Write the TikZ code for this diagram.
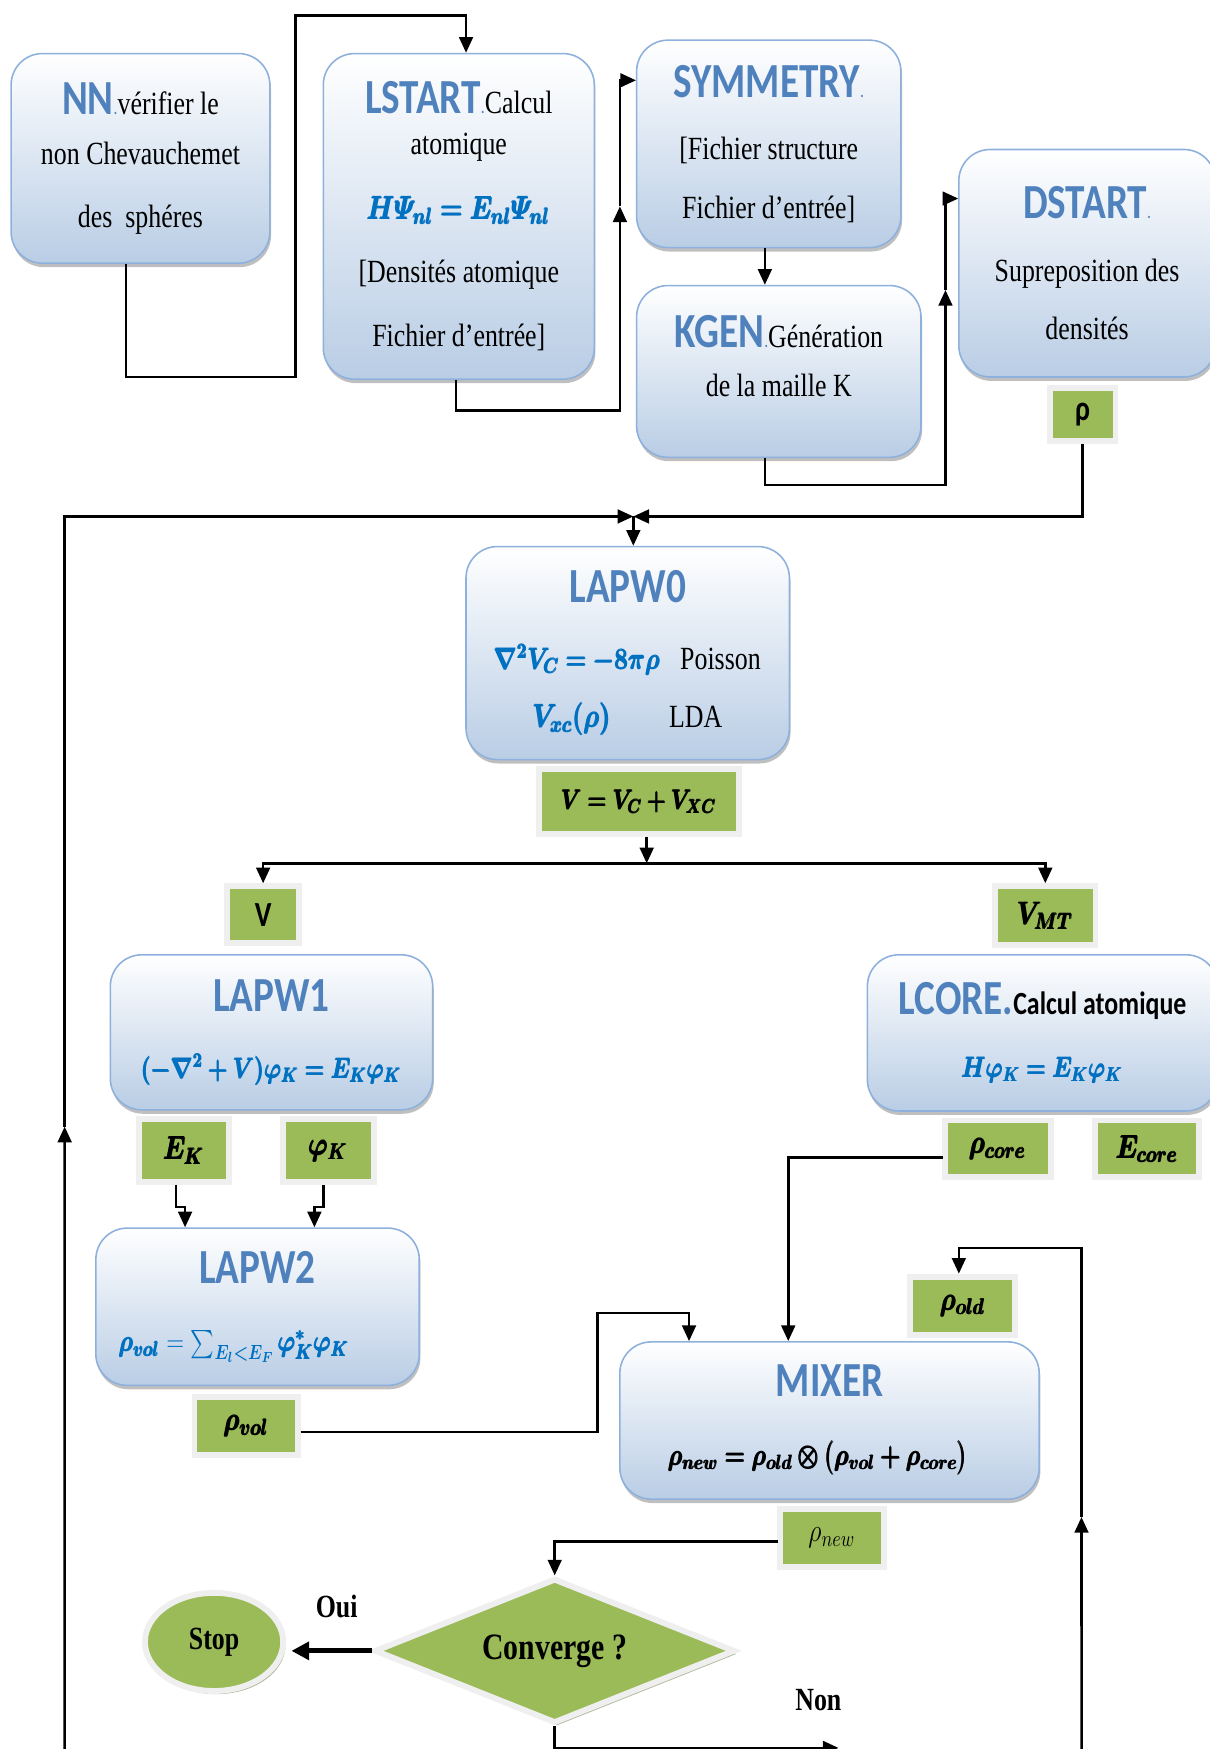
\RequirePackage{fix-cm}
\documentclass[tikz,border=0pt]{standalone}
\usepackage{fontspec}
\usepackage{amsmath,bm}
\setmainfont{Liberation Serif}
\newfontfamily\carlito{Carlito}
\usetikzlibrary{arrows.meta,shapes.geometric,shadows}
\definecolor{titleblue}{HTML}{4F81BD}
\definecolor{eqblue}{HTML}{0070C0}
\definecolor{boxblue}{HTML}{B9CDE5}
\definecolor{boxedge}{HTML}{8EB0DC}
\definecolor{leaf}{HTML}{9BBB59}
\definecolor{framegray}{HTML}{EFEFEF}
\newcommand{\ttl}[1]{{\carlito\bfseries\fontsize{25}{25}\selectfont\color{titleblue}#1}}
\newcommand{\tdot}{{\carlito\fontsize{10}{10}\selectfont\color{titleblue}.}}
\newcommand{\hb}[1]{\pmb{\bm{#1}}}
\newcommand{\beq}[2][16.5]{{\fontsize{#1}{20}\selectfont\textcolor{eqblue}{$\hb{#2}$}}}
\newcommand{\beqk}[2][16.5]{{\fontsize{#1}{20}\selectfont$\hb{#2}$}}
\newcommand{\sfb}[1]{{\carlito\bfseries\fontsize{18}{18}\selectfont #1}}
\tikzset{
  txt/.style={font=\fontsize{16.5}{20}\selectfont},
  proc/.style={txt,rectangle,rounded corners=16pt,draw=boxedge,line width=0.8pt,top color=white,bottom color=boxblue,align=center,drop shadow={shadow xshift=0.6pt,shadow yshift=-2pt,fill=black!50,opacity=0.5}},
  data/.style={txt,rectangle,fill=leaf,draw=framegray,line width=3pt,inner sep=1pt,drop shadow={shadow xshift=1.2pt,shadow yshift=-1.6pt,fill=black!40!leaf,opacity=0.5}},
  lbl/.style={txt,font=\fontsize{16.5}{20}\selectfont\bfseries},
  arrow/.style={-{Triangle[length=8pt,width=7pt]},line width=1.3pt},
  bigarrow/.style={-{Triangle[length=9pt,width=9pt]},line width=2.6pt,shorten >=3pt}
}
\begin{document}
\begin{tikzpicture}[x=0.025cm,y=-0.02cm,xscale=0.8,transform shape]
  \useasboundingbox (0,0) rectangle (1085,1568);
  % initialisation
  \node[proc,minimum width=5.8cm,minimum height=3.76cm] (nn) at (126,142) {\ttl{NN}\tdot vérifier le\\[6pt]non Chevauchemet\\[12pt]des\ \ sphéres};
  \node[proc,minimum width=6.075cm,minimum height=5.84cm] (lstart) at (411.5,194) {\ttl{LSTART}\tdot Calcul\\[1pt]atomique\\[13pt]\beq{H\varPsi_{nl} = E_{nl}\varPsi_{nl}}\\[12pt][Densités atomique\\[13pt]Fichier d’entrée]};
  \node[proc,minimum width=5.925cm,minimum height=3.72cm] (symm) at (689.5,129) {\ttl{SYMMETRY}\tdot\\[12pt][Fichier structure\\[10pt]Fichier d’entrée]};
  \node[proc,minimum width=6.375cm,minimum height=3.08cm,text depth=16pt] (kgen) at (698.5,333) {\ttl{KGEN}\tdot Génération\\[5pt]de la maille K};
  \node[proc,minimum width=5.75cm,minimum height=4.08cm] (dstart) at (975,236) {\ttl{DSTART}\tdot\\[12pt]Supreposition des\\[10pt]densités};
  \node[data,minimum width=1.475cm,minimum height=0.96cm] (rho) at (971,371.5) {\sfb{ρ}};
  % cycle SCF
  \node[proc,minimum width=7.25cm,minimum height=3.82cm] (lapw0) at (563,585.5) {\ttl{LAPW0}\\[14pt]\beq[15.2]{\nabla^2V_C = -8\pi\rho}\hspace{0.45cm}Poisson\\[10pt]\beq{V_{xc}(\rho)}\hspace{1.3cm}LDA};
  \node[data,minimum width=4.475cm,minimum height=1.16cm] (vsum) at (573,718.5) {\beqk[14]{V = V_C + V_{XC}}};
  \node[data,minimum width=1.625cm,minimum height=1.02cm] (v) at (236,820) {\sfb{V}};
  \node[data,minimum width=2.25cm,minimum height=1.06cm] (vmt) at (937.5,821) {$\hb{V_{MT}}$};
  \node[proc,minimum width=7.225cm,minimum height=2.78cm] (lapw1) at (243.5,925.5) {\ttl{LAPW1}\\[14pt]\beq[14.5]{(-\nabla^2+V)\varphi_K = E_K\varphi_K}};
  \node[data,minimum width=2.025cm,minimum height=1.12cm] (ek) at (165,1031.5) {$\hb{E_K}$};
  \node[data,minimum width=2.05cm,minimum height=1.12cm] (phik) at (294.5,1031.5) {$\hb{\varphi_K}$};
  \node[proc,minimum width=7.25cm,minimum height=2.82cm] (lapw2) at (231,1171.5) {\ttl{LAPW2}\\[15pt]{\fontsize{15}{20}\selectfont\textcolor{eqblue}{$\hb{\rho_{vol}} = \sum_{\bm{E_l<E_F}}\hb{\varphi^{*}_K\varphi_K}$}}\rule{1.05cm}{0pt}};
  \node[data,minimum width=2.325cm,minimum height=1.04cm] (rvol) at (221,1278.5) {$\hb{\rho_{vol}}$};
  \node[proc,minimum width=7.85cm,minimum height=2.8cm] (lcore) at (935,926) {\ttl{LCORE.}{\carlito\bfseries Calcul atomique}\\[12pt]\beq[14.5]{H\varphi_K = E_K\varphi_K}};
  \node[data,minimum width=2.375cm,minimum height=1.02cm] (rcore) at (895,1030) {$\hb{\rho_{core}}$};
  \node[data,minimum width=2.325cm,minimum height=1.02cm] (ecore) at (1029,1030) {$\hb{E_{core}}$};
  \node[data,minimum width=2.35cm,minimum height=1.04cm] (rold) at (863.5,1170.5) {$\hb{\rho_{old}}$};
  \node[proc,minimum width=9.4cm,minimum height=2.82cm] (mixer) at (744,1273.5) {\ttl{MIXER}\\[15pt]\beqk[15]{\rho_{new} = \rho_{old}\otimes\bigl(\rho_{vol}+\rho_{core}\bigr)}\rule{0.5cm}{0pt}};
  \node[data,minimum width=2.325cm,minimum height=1.04cm] (rnew) at (746,1378.5) {$\rho_{new}$};
  % test
  \node[data,diamond,aspect=2.5,minimum width=8.075cm,minimum height=2.6cm,font=\fontsize{19}{19}\selectfont\bfseries] (conv) at (497.5,1480) {Converge ?};
  \node[data,ellipse,minimum width=3.1cm,minimum height=1.76cm,font=\fontsize{16.5}{20}\selectfont\bfseries] (stop) at (192,1472) {Stop};
  \node[lbl] (oui) at (302,1440) {Oui};
  \node[lbl] (non) at (734,1524) {Non};

  \coordinate (join) at (568,463);
  \coordinate (split) at (580,774);
  \coordinate (lbot) at (58,1568);
  \coordinate (rbot) at (970,1568);
  \coordinate (nonend) at (752,1567);

  \draw[arrow] (113,0 |- nn.south) -- (113,338) -| (265,14) -| (418,0 |- lstart.north);
  \draw[arrow] (409,0 |- lstart.south) |- (556,368) -- (556,185);
  \draw[arrow] (556,185) |- (symm.west |- 0,72);
  \draw[arrow] (686,0 |- symm.south) -- (686,0 |- kgen.north);
  \draw[arrow] (686,0 |- kgen.south) |- (848,435) -- (848,260);
  \draw[arrow] (848,260) |- (dstart.west |- 0,178);
  \draw[arrow] (rho.south) |- (join);
  \draw[arrow] (lbot) -- (58,1010);
  \draw[arrow] (58,1010) |- (join);
  \draw[arrow] (join) -- (join |- lapw0.north);
  \draw[arrow] (vsum.south -| split) -- (split);
  \draw[arrow] (split) -| (v.north); \draw[arrow] (split) -| (vmt.north);
  \draw[arrow] (158,0 |- ek.south) -- (158,1082) -- (166,1082) -- (166,0 |- lapw2.north);
  \draw[arrow] (290,0 |- phik.south) -- (290,1082) -- (282,1082) -- (282,0 |- lapw2.north);
  \draw[arrow] ([yshift=-3pt]rvol.east) -| (536,1177) -| (618,0 |- mixer.north);
  \draw[arrow] ([yshift=-4.5pt]rcore.west) -| (707,0 |- mixer.north);
  \draw[arrow] (rbot) -- (970,1360);
  \draw[arrow] (970,1360) |- (860,1119) -- (860,0 |- rold.north);
  \draw[arrow] ([yshift=-2pt]rnew.west) -| (conv.north);
  \draw[bigarrow] (conv.west) -- (stop.east |- conv.west);
  \draw[arrow] (conv.south) |- (nonend);
\end{tikzpicture}
\end{document}
